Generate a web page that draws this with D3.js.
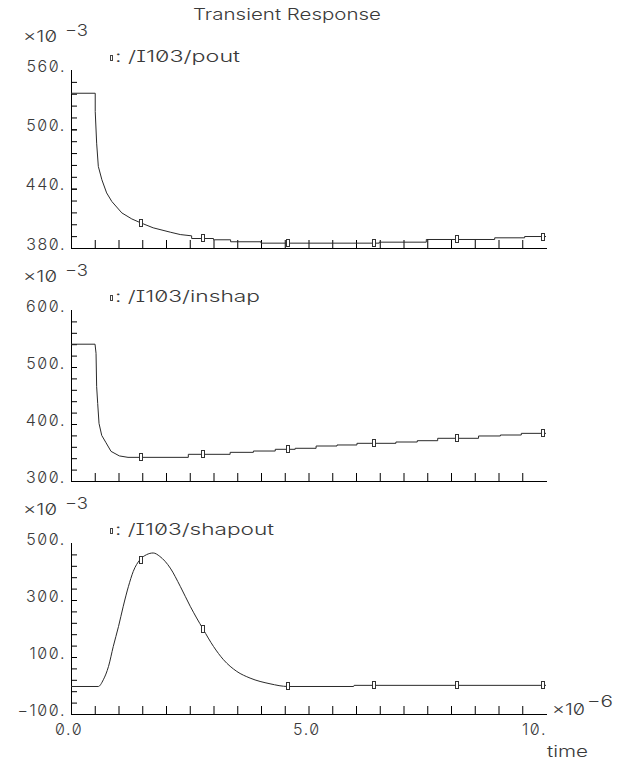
<!DOCTYPE html>
<html><head><meta charset="utf-8">
<script src="https://cdn.jsdelivr.net/npm/d3@7"></script>
<style>
html,body{margin:0;padding:0;background:#fff;}
svg text{font-family:Inter,"DejaVu Sans",sans-serif;font-weight:300;fill:#3a3a3a;font-size:16px;
  font-feature-settings:"zero" 1,"cv08" 1;}
</style></head><body>
<svg id="c" width="624" height="760"></svg>
<script>
// ---------------- data ----------------
const chartTitle = "Transient Response";
const xDomain = [0, 10];
const xTickValues = [0, 5, 10];
const xTickLabels = ["0.0", "5.0", "10."];
const xMinorTicks = d3.range(0.5, 10, 0.5);
const xExponent = "−6";
const xAxisName = "time";
const markerTimes = [1.47, 2.78, 4.57, 6.37, 8.13, 9.93];

// /I103/pout  (x10^-3)
const poutName = "/I103/pout";
const poutDomain = [380, 560];
const poutTickValues = [560, 500, 440, 380];
const poutTickLabels = ["560.", "500.", "440.", "380."];
const poutMinorTicks = d3.range(392, 560, 12);
const poutT = [0, 0.51, 0.51, 0.54, 0.575, 0.65, 0.75, 0.86, 1.07, 1.28, 1.47, 1.73, 2.09, 2.30,
  2.54, 2.54, 3.0, 3.0, 3.36, 3.36, 4.0, 4.0, 6.49, 6.49, 7.48, 7.48, 8.92, 8.92, 9.55, 9.55, 10];
const poutV = [536.5, 536.5, 518, 486, 462.5, 449, 435.7, 427, 415.5, 409.4, 405.4, 400.4, 396, 393.6,
  392.3, 389.6, 389.6, 388.3, 388.3, 386.3, 386.3, 384.9, 384.9, 385.9, 385.9, 388.6, 388.6, 390.3, 390.3, 391.6, 391.6];
const poutMarkers = [405.4, 390, 384.9, 384.9, 388.6, 391.6];

// /I103/inshap  (x10^-3)
const inshapName = "/I103/inshap";
const inshapDomain = [300, 600];
const inshapTickValues = [600, 500, 400, 300];
const inshapTickLabels = ["600.", "500.", "400.", "300."];
const inshapMinorTicks = d3.range(320, 600, 20);
const inshapT = [0, 0.506, 0.527, 0.54, 0.562, 0.59, 0.647, 0.738, 0.843, 1.018, 1.2,
  2.47, 2.47, 3.35, 3.35, 3.84, 3.84, 4.3, 4.3, 4.72, 4.72, 5.16, 5.16, 5.6, 5.6, 6.02, 6.02,
  6.84, 6.84, 7.29, 7.29, 7.72, 7.72, 8.58, 8.58, 9.04, 9.04, 9.48, 9.48, 10];
const inshapV = [540, 540, 524, 465.5, 436, 401, 380, 367, 352, 344, 341.5,
  341.5, 346.8, 346.8, 350.3, 350.3, 352.6, 352.6, 355.6, 355.6, 357.4, 357.4, 361.4, 361.4, 363.2, 363.2, 366.1,
  366.1, 368.4, 368.4, 370.7, 370.7, 374.9, 374.9, 379, 379, 380.7, 380.7, 383.6, 383.6];
const inshapMarkers = [341.5, 346.8, 355.6, 366.1, 374.9, 383.6];

// /I103/shapout  (x10^-3)
const shapoutName = "/I103/shapout";
const shapoutDomain = [-100, 500];
const shapoutTickValues = [500, 300, 100, -100];
const shapoutTickLabels = ["500.", "300.", "100.", "−100."];
const shapoutMinorTicks = d3.range(-60, 500, 40);
const shapoutT = [0, 0.575, 0.68, 0.79, 0.89, 1.0, 1.10, 1.21, 1.31, 1.45, 1.59, 1.73, 1.87, 2.09,
  2.30, 2.51, 2.78, 3.0, 3.21, 3.49, 3.77, 4.19, 4.57, 5.95, 5.96, 10];
const shapoutV = [-3.5, -3.5, 20, 67, 137, 207, 278, 348, 400, 441, 459, 465, 453, 412,
  348, 278, 198, 137, 90.5, 49.5, 26, 6, -3.5, -3.5, 0.5, 0.5];
const shapoutMarkers = [441, 198, -3.5, 0.5, 0.5, 0.5];
const yExponent = "−3";

// ---------------- layout ----------------
const X0 = 71, X1 = 546;
const layout = [
  {top: 70, bottom: 248},
  {top: 310, bottom: 481},
  {top: 543, bottom: 714}
];
const series = [
  {name: poutName, domain: poutDomain, tv: poutTickValues, tl: poutTickLabels, minor: poutMinorTicks,
   T: poutT, V: poutV, M: poutMarkers, curve: d3.curveLinear, legW: 125},
  {name: inshapName, domain: inshapDomain, tv: inshapTickValues, tl: inshapTickLabels, minor: inshapMinorTicks,
   T: inshapT, V: inshapV, M: inshapMarkers, curve: d3.curveLinear, legW: 145},
  {name: shapoutName, domain: shapoutDomain, tv: shapoutTickValues, tl: shapoutTickLabels, minor: shapoutMinorTicks,
   T: shapoutT, V: shapoutV, M: shapoutMarkers, curve: d3.curveMonotoneX, legW: 159}
];

const svg = d3.select("#c");
const x = d3.scaleLinear().domain(xDomain).range([X0, X1]);
const lineCol = "#2a2a2a";

svg.append("text").attr("x", 193).attr("y", 20).attr("font-size", 17)
  .attr("textLength", 188).attr("lengthAdjust", "spacingAndGlyphs").text(chartTitle);

series.forEach((s, k) => {
  const L = layout[k];
  const y = d3.scaleLinear().domain(s.domain).range([L.bottom, L.top]);
  const g = svg.append("g");

  // y minor ticks
  const ya = g.append("g").attr("transform", `translate(${X0},0)`)
    .call(d3.axisRight(y).tickValues(s.minor.concat(s.tv.slice(1, -1))).tickSize(6).tickFormat(""));
  ya.select(".domain").remove();
  ya.selectAll("line").attr("stroke", "#000");
  // x ticks
  const xa = g.append("g").attr("transform", `translate(0,${L.bottom})`)
    .call(d3.axisTop(x).tickValues(xMinorTicks).tickSize(8).tickFormat(""));
  xa.select(".domain").remove();
  xa.selectAll("line").attr("stroke", "#000");
  // axis lines
  g.append("line").attr("x1", X0 + 0.5).attr("x2", X0 + 0.5).attr("y1", L.top).attr("y2", L.bottom + 1)
    .attr("stroke", "#000").attr("shape-rendering", "crispEdges");
  g.append("line").attr("x1", X0).attr("x2", X1 + 1).attr("y1", L.bottom + 0.5).attr("y2", L.bottom + 0.5)
    .attr("stroke", "#000").attr("shape-rendering", "crispEdges");

  // y labels
  s.tv.forEach((v, i) => {
    g.append("text").attr("x", 66).attr("y", y(v) + 1.5).attr("text-anchor", "end")
      .attr("letter-spacing", "1.6px").text(s.tl[i]);
  });
  // exponent
  g.append("text").attr("x", 23).attr("y", L.top - 28).attr("textLength", 34)
    .attr("lengthAdjust", "spacingAndGlyphs").text("×10");
  g.append("text").attr("x", 65).attr("y", L.top - 34).attr("textLength", 23)
    .attr("lengthAdjust", "spacingAndGlyphs").text(yExponent);
  // legend
  g.append("rect").attr("x", 110.5).attr("y", L.top - 14.5).attr("width", 2).attr("height", 5)
    .attr("fill", "#fff").attr("stroke", "#444").attr("stroke-width", 1);
  g.append("text").attr("x", 115).attr("y", L.top - 8).attr("textLength", s.legW)
    .attr("lengthAdjust", "spacingAndGlyphs").text(": " + s.name);

  // curve
  const line = d3.line().x(i => x(s.T[i])).y(i => y(s.V[i])).curve(s.curve);
  g.append("path").attr("d", line(d3.range(s.T.length)))
    .attr("fill", "none").attr("stroke", lineCol).attr("stroke-width", 1);
  // markers
  markerTimes.forEach((t, i) => {
    const cx = Math.round(x(t)), cy = Math.round(y(s.M[i]));
    g.append("rect").attr("x", cx - 1.5).attr("y", cy - 3.5).attr("width", 3).attr("height", 7)
      .attr("fill", "#fff").attr("stroke", "#333").attr("stroke-width", 1);
  });

  // x labels on last panel
  if (k === layout.length - 1) {
    xTickValues.forEach((v, i) => {
      const tx = g.append("text").attr("x", 0).attr("y", L.bottom + 21)
        .attr("letter-spacing", "1.6px").text(xTickLabels[i]);
      const node = tx.node();
      const p = xTickLabels[i].indexOf(".");
      const w = node.getSubStringLength(0, p) + node.getSubStringLength(p, 1) / 2;
      tx.attr("x", x(v) - 2 - w);
    });
    g.append("text").attr("x", 552).attr("y", L.bottom + 1).attr("textLength", 33)
      .attr("lengthAdjust", "spacingAndGlyphs").text("×10");
    g.append("text").attr("x", 587).attr("y", L.bottom - 7).attr("textLength", 26)
      .attr("lengthAdjust", "spacingAndGlyphs").text(xExponent);
    g.append("text").attr("x", 547).attr("y", L.bottom + 43).attr("textLength", 41)
      .attr("lengthAdjust", "spacingAndGlyphs").text(xAxisName);
  }
});
</script>
</body></html>
